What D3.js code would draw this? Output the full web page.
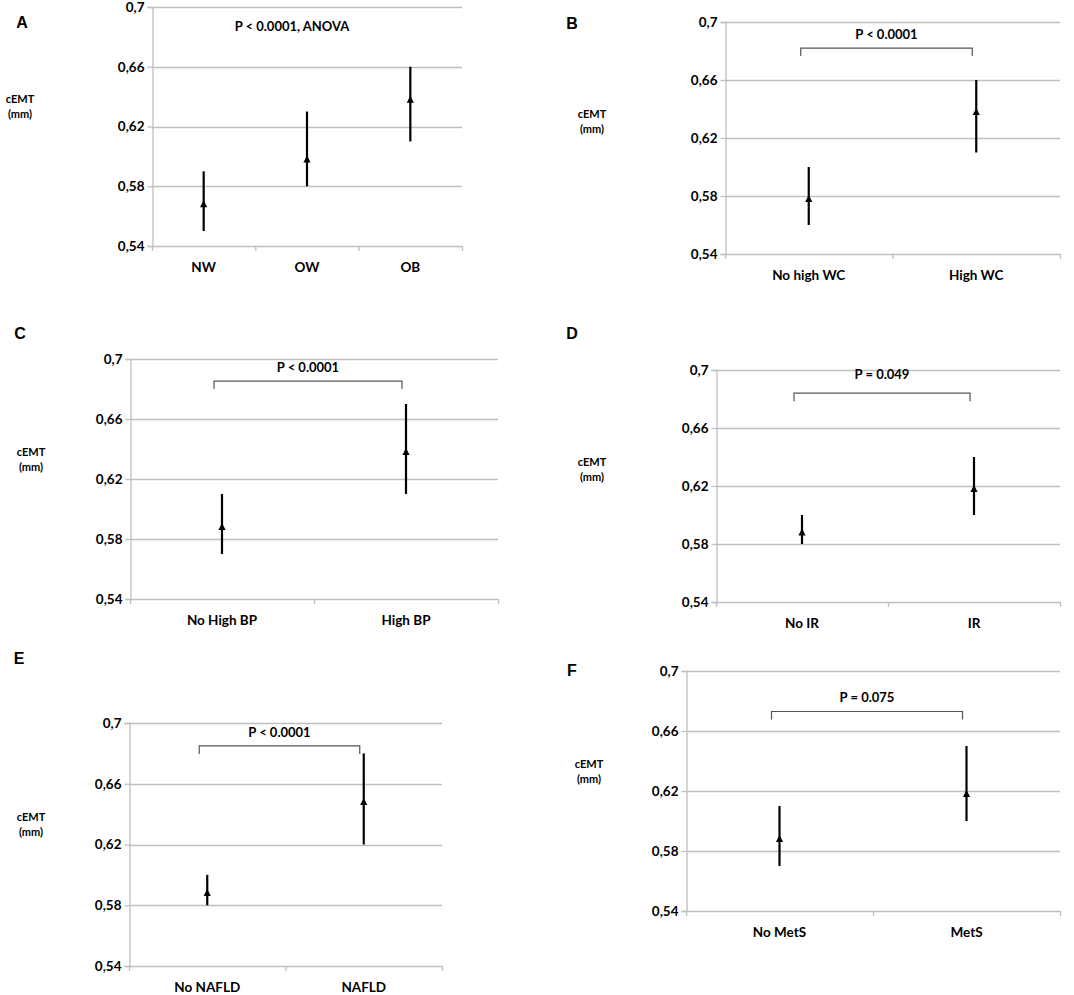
<!DOCTYPE html>
<html><head><meta charset="utf-8">
<script src="https://cdn.jsdelivr.net/npm/d3@7"></script>
<style>
html,body{margin:0;padding:0;background:#fff;}
text{font-family:Lato,"Open Sans",sans-serif;font-weight:bold;fill:#000;}
</style></head>
<body>
<svg id="c" width="1074" height="995"></svg>
<script>
// ---- data ----
const yTicks = [0.54, 0.58, 0.62, 0.66, 0.70];
const yTickLabels = ["0,54", "0,58", "0,62", "0,66", "0,7"];
const panelLetters = ["A", "B", "C", "D", "E", "F"];
const categoriesA = ["NW", "OW", "OB"];
const meanA = [0.57, 0.60, 0.64];
const lowA = [0.55, 0.58, 0.61];
const highA = [0.59, 0.63, 0.66];
const categoriesB = ["No high WC", "High WC"];
const meanB = [0.58, 0.64];
const lowB = [0.56, 0.61];
const highB = [0.60, 0.66];
const categoriesC = ["No High BP", "High BP"];
const meanC = [0.59, 0.64];
const lowC = [0.57, 0.61];
const highC = [0.61, 0.67];
const categoriesD = ["No IR", "IR"];
const meanD = [0.59, 0.62];
const lowD = [0.58, 0.60];
const highD = [0.60, 0.64];
const categoriesE = ["No NAFLD", "NAFLD"];
const meanE = [0.59, 0.65];
const lowE = [0.58, 0.62];
const highE = [0.60, 0.68];
const categoriesF = ["No MetS", "MetS"];
const meanF = [0.59, 0.62];
const lowF = [0.57, 0.60];
const highF = [0.61, 0.65];
const pLabels = ["P < 0.0001, ANOVA", "P < 0.0001", "P < 0.0001", "P = 0.049", "P < 0.0001", "P = 0.075"];
const yLabel = ["cEMT", "(mm)"];

const seriesCats = [categoriesA, categoriesB, categoriesC, categoriesD, categoriesE, categoriesF];
const seriesMean = [meanA, meanB, meanC, meanD, meanE, meanF];
const seriesLow = [lowA, lowB, lowC, lowD, lowE, lowF];
const seriesHigh = [highA, highB, highC, highD, highE, highF];

// ---- layout ----
const layout = [
  {l:152, r:462, t:7,   b:246, lx:22,  ly:24,  cx:20,  cy:100, pY:0.686, br:null},
  {l:725, r:1060,t:22,  b:254, lx:572, ly:25,  cx:592, cy:115, pY:0.6903, br:0.682},
  {l:130, r:498, t:359, b:599, lx:20,  ly:335, cx:31,  cy:453, pY:0.6933, br:0.6853},
  {l:716, r:1060,t:370, b:602, lx:572, ly:335, cx:592, cy:463, pY:0.6959, br:0.684},
  {l:129, r:442, t:723, b:966, lx:19,  ly:660, cx:31,  cy:818, pY:0.6927, br:0.6849},
  {l:686, r:1060,t:671, b:911, lx:572, ly:672, cx:589, cy:765, pY:0.6813, br:0.673}
];

const svg = d3.select("#c");
const grid = "#bfbfbf";

layout.forEach((L, i) => {
  const cats = seriesCats[i];
  const g = svg.append("g");
  const y = d3.scaleLinear().domain([0.54, 0.70]).range([L.b, L.t]);
  const x = d3.scaleBand().domain(cats).range([L.l, L.r]);
  const cxp = c => x(c) + x.bandwidth() / 2;

  // gridlines
  g.selectAll("line.grid").data(yTicks.slice(1)).join("line")
    .attr("x1", L.l).attr("x2", L.r)
    .attr("y1", d => Math.round(y(d)) + 0.5).attr("y2", d => Math.round(y(d)) + 0.5)
    .attr("stroke", grid).attr("stroke-width", 1.3);

  // y axis
  const yAxis = d3.axisLeft(y).tickValues(yTicks).tickSize(5).tickFormat((d, k) => yTickLabels[k]);
  const ya = g.append("g").attr("transform", `translate(${L.l + 0.5},0)`).call(yAxis);
  ya.select(".domain").attr("stroke", grid).attr("stroke-width", 1.3);
  ya.selectAll(".tick line").attr("stroke", grid).attr("stroke-width", 1.3);
  ya.selectAll(".tick text").attr("x", -8).style("font-size", "13.5px")
    .style("font-family", "Lato, sans-serif").style("font-weight", "bold").attr("fill", "#000");

  // x axis line with ticks at band boundaries
  const bounds = cats.map(c => x(c)).concat([L.r]);
  g.append("line").attr("x1", L.l).attr("x2", L.r)
    .attr("y1", Math.round(L.b) + 0.5).attr("y2", Math.round(L.b) + 0.5)
    .attr("stroke", grid).attr("stroke-width", 1.3);
  g.selectAll("line.xt").data(bounds).join("line")
    .attr("x1", d => d + 0.5).attr("x2", d => d + 0.5)
    .attr("y1", L.b).attr("y2", L.b + 5).attr("stroke", grid).attr("stroke-width", 1.3);
  g.selectAll("text.xl").data(cats).join("text")
    .attr("x", d => cxp(d)).attr("y", L.b + 23).attr("text-anchor", "middle")
    .attr("dominant-baseline", "middle").style("font-size", "13.5px").text(d => d);

  // error bars
  const idx = cats.map((c, k) => k);
  g.selectAll("line.eb").data(idx).join("line")
    .attr("x1", k => cxp(cats[k])).attr("x2", k => cxp(cats[k]))
    .attr("y1", k => y(seriesLow[i][k])).attr("y2", k => y(seriesHigh[i][k]))
    .attr("stroke", "#000").attr("stroke-width", 2.2);
  g.selectAll("path.mk").data(idx).join("path")
    .attr("d", k => {
      const px = cxp(cats[k]), py = y(seriesMean[i][k]);
      return `M${px},${py - 1}L${px + 3.6},${py + 6}L${px - 3.6},${py + 6}Z`;
    }).attr("fill", "#000");

  // bracket
  let pX;
  if (L.br !== null) {
    const bx1 = cxp(cats[0]) - 8, bx2 = cxp(cats[1]) - 4, by = y(L.br);
    g.append("path").attr("d", `M${bx1},${by + 8}V${by}H${bx2}V${by + 8}`)
      .attr("fill", "none").attr("stroke", "#555").attr("stroke-width", 1.2);
    pX = (bx1 + bx2) / 2;
  } else {
    pX = (L.l + L.r) / 2 - 15;
  }
  g.append("text").attr("x", pX).attr("y", y(L.pY)).attr("text-anchor", "middle")
    .attr("dominant-baseline", "middle").style("font-size", "13px").text(pLabels[i]);

  // panel letter
  g.append("text").attr("x", L.lx).attr("y", L.ly).attr("text-anchor", "middle")
    .attr("dominant-baseline", "middle")
    .style("font-family", "'Liberation Sans', Arial, sans-serif").style("font-size", "16px")
    .text(panelLetters[i]);

  // y label
  g.selectAll("text.yl").data(yLabel).join("text")
    .attr("x", L.cx).attr("y", (d, k) => L.cy + k * 15).attr("text-anchor", "middle")
    .attr("dominant-baseline", "middle").style("font-size", "11px").text(d => d);
});
</script>
</body></html>
